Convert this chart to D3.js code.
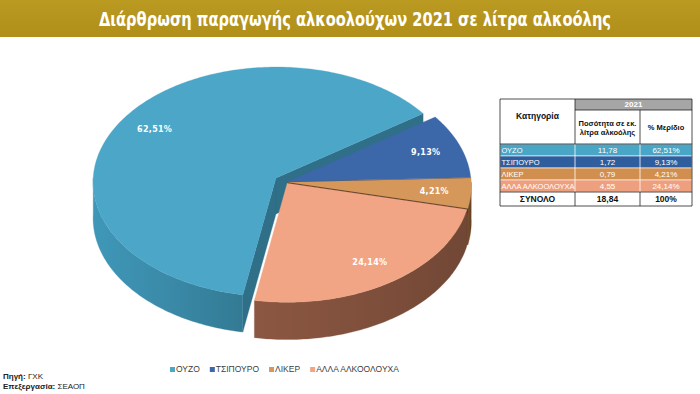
<!DOCTYPE html>
<meta charset="utf-8">
<style>
body { margin: 0; background: #fff; }
svg { display: block; font-family: "Liberation Sans", Arial, sans-serif; }
</style>
<svg width="700" height="394"></svg>
<script src="https://d3js.org/d3.v7.min.js"></script>
<script>

var title = "Διάρθρωση παραγωγής αλκοολούχων 2021 σε λίτρα αλκοόλης";
var categories = ["ΟΥΖΟ", "ΤΣΙΠΟΥΡΟ", "ΛΙΚΕΡ", "ΑΛΛΑ ΑΛΚΟΟΛΟΥΧΑ"];
var volumes = [11.78, 1.72, 0.79, 4.55];   // εκ. λίτρα αλκοόλης
var shares = [62.51, 9.13, 4.21, 24.14];   // %
var totalLabel = "ΣΥΝΟΛΟ", totalVolume = 18.84, totalShare = 100;
var year = "2021";
var tableHeaders = ["Κατηγορία", ["Ποσότητα σε εκ.", "λίτρα αλκοόλης"], "% Μερίδιο"];
var sourceLines = [["Πηγή:", " ΓΧΚ"], ["Επεξεργασία:", " ΣΕΑΟΠ"]];

var topColors  = ["#4ba6c8", "#3c67a8", "#d5985a", "#f2a584"];
var sideColors = ["#3a8aa8", "#2b4f84", "#6e4728", "#80503c"];
var cutColors  = ["#2f7088", "#223f6a", "#4a2e18", "#5e3a2c"];
var rowColors  = ["#4aa6c6", "#2f5e9e", "#d18f4f", "#ee9f7e"];
var explodeBy  = [0.065, 0.012, 0.012, 0.012];

var svg = d3.select("svg");
var defs = svg.append("defs");

var greek = d3.formatLocale({decimal: ",", thousands: ".", grouping: [3], currency: ["", "€"]});
var f2 = greek.format(".2f");

// ---- title bar
var tg = defs.append("linearGradient").attr("id", "bar").attr("x1", 0).attr("x2", 0).attr("y1", 0).attr("y2", 1);
tg.append("stop").attr("offset", 0).attr("stop-color", "#bb9a22");
tg.append("stop").attr("offset", 1).attr("stop-color", "#b08f1a");
svg.append("rect").attr("width", 700).attr("height", 37).attr("fill", "url(#bar)");
svg.append("text")
    .attr("x", 355).attr("y", 26)
    .attr("text-anchor", "middle")
    .attr("fill", "#fff")
    .attr("font-family", "'Liberation Sans Narrow','DejaVu Sans Condensed','Roboto Condensed',sans-serif")
    .attr("font-weight", "bold")
    .attr("font-size", 19)
    .attr("textLength", 512).attr("lengthAdjust", "spacingAndGlyphs")
    .text(title);

// ---- 3D pie
var cx = 286, cy = 182, A = 183, B = 115, persp = 0.034, depth = 36;

function project(X, Z, h) {
  var w = 1 / (1 - persp * Z);
  return [cx + A * X * w, cy + (B * Z + depth * h) * w];
}

var start = 190 * Math.PI / 180;
var pie = d3.pie().sort(null).value(function(d) { return d; })
    .startAngle(start).endAngle(start + 2 * Math.PI);
var arcs = pie(shares);

arcs.forEach(function(d, i) {
  d.mid = (d.startAngle + d.endAngle) / 2;
  d.ex = explodeBy[i] * Math.sin(d.mid);
  d.ez = -explodeBy[i] * Math.cos(d.mid);
  d.i = i;
});

function rim(d, a, h) { return project(d.ex + Math.sin(a), d.ez - Math.cos(a), h); }
function rimZ(d, a) { return d.ez - Math.cos(a); }
function arcPts(d, a0, a1, h) {
  var n = Math.max(2, Math.ceil(Math.abs(a1 - a0) / (Math.PI / 180))), pts = [];
  for (var k = 0; k <= n; k++) pts.push(rim(d, a0 + (a1 - a0) * k / n, h));
  return pts;
}
var line = d3.line().curve(d3.curveLinearClosed);

var faces = [];
arcs.forEach(function(d) {
  // outer wall, only the front half
  [Math.PI / 2, Math.PI / 2 + 2 * Math.PI].forEach(function(f0) {
    var b0 = Math.max(d.startAngle, f0), b1 = Math.min(d.endAngle, f0 + Math.PI);
    if (b1 > b0) {
      var pts = arcPts(d, b0, b1, 0).concat(arcPts(d, b1, b0, 1));
      faces.push({d: d, kind: "wall", pts: pts, z: rimZ(d, (b0 + b1) / 2), x0: rim(d, b0, 0)[0], x1: rim(d, b1, 0)[0]});
    }
  });
  // cut faces
  [[d.startAngle, -1], [d.endAngle, 1]].forEach(function(c) {
    var phi = c[0] + c[1] * Math.PI / 2;
    if (-Math.cos(phi) <= 0) return;
    var v0 = project(d.ex, d.ez, 0), v1 = project(d.ex, d.ez, 1);
    var pts = [v0, rim(d, c[0], 0), rim(d, c[0], 1), v1];
    faces.push({d: d, kind: "cut", pts: pts, z: (d.ez + rimZ(d, c[0])) / 2});
  });
});
faces.sort(function(a, b) { return a.z - b.z; });

faces.forEach(function(f, j) {
  var fill = cutColors[f.d.i];
  if (f.kind === "wall") {
    var id = "wg" + j;
    var g = defs.append("linearGradient").attr("id", id).attr("gradientUnits", "userSpaceOnUse")
        .attr("x1", Math.min(f.x0, f.x1)).attr("x2", Math.max(f.x0, f.x1)).attr("y1", 0).attr("y2", 0);
    var c = d3.color(sideColors[f.d.i]);
    g.append("stop").attr("offset", 0).attr("stop-color", c.brighter(0.25));
    g.append("stop").attr("offset", 0.5).attr("stop-color", c);
    g.append("stop").attr("offset", 1).attr("stop-color", c.darker(0.35));
    fill = "url(#" + id + ")";
  }
  svg.append("path").attr("d", line(f.pts)).attr("fill", fill)
      .attr("stroke", fill).attr("stroke-width", 0.3);
});

svg.append("g").selectAll("path").data(arcs).join("path")
    .attr("d", function(d) { return line([project(d.ex, d.ez, 0)].concat(arcPts(d, d.startAngle, d.endAngle, 0))); })
    .attr("fill", function(d) { return topColors[d.i]; })
    .attr("stroke", function(d) { return topColors[d.i]; })
    .attr("stroke-width", 0.3);

var labelR = 0.8;
svg.append("g").selectAll("text").data(arcs).join("text")
    .attr("transform", function(d) {
      var p = project(d.ex + labelR * Math.sin(d.mid), d.ez - labelR * Math.cos(d.mid), 0);
      return "translate(" + p + ")";
    })
    .attr("text-anchor", "middle").attr("dy", "0.35em")
    .attr("fill", "#fff").attr("font-family", "'DejaVu Sans',Verdana,sans-serif")
    .attr("font-size", 8).attr("font-weight", "bold")
    .attr("letter-spacing", 0.3)
    .text(function(d) { return f2(d.data) + "%"; });

// ---- table
var tx = [500, 575, 640, 692];
var yTop = 99, yYear = 110, yHead = 144, rowH = 12, totalH = 14;
var tbl = svg.append("g").attr("font-size", 7.5);

tbl.append("rect").attr("x", tx[1]).attr("y", yTop).attr("width", tx[3] - tx[1]).attr("height", yYear - yTop).attr("fill", "#a6a6a6");
tbl.append("text").attr("x", (tx[1] + tx[3]) / 2).attr("y", (yTop + yYear) / 2).attr("dy", "0.35em")
    .attr("text-anchor", "middle").attr("fill", "#fff").attr("font-weight", "bold").attr("font-size", 8).text(year);
tbl.append("text").attr("x", (tx[0] + tx[1]) / 2).attr("y", 116).attr("dy", "0.35em")
    .attr("text-anchor", "middle").attr("fill", "#111").attr("font-weight", "bold").attr("font-size", 8.5).text(tableHeaders[0]);
tableHeaders[1].forEach(function(s, k) {
  tbl.append("text").attr("x", (tx[1] + tx[2]) / 2).attr("y", 123 + k * 9.5).attr("dy", "0.35em")
      .attr("text-anchor", "middle").attr("fill", "#111").attr("font-weight", "bold").text(s);
});
tbl.append("text").attr("x", (tx[2] + tx[3]) / 2).attr("y", 127).attr("dy", "0.35em")
    .attr("text-anchor", "middle").attr("fill", "#111").attr("font-weight", "bold").text(tableHeaders[2]);

var rows = tbl.selectAll("g.row").data(categories).join("g").attr("class", "row")
    .attr("transform", function(d, i) { return "translate(0," + (yHead + i * rowH) + ")"; });
rows.append("rect").attr("x", tx[0]).attr("width", tx[3] - tx[0]).attr("height", rowH)
    .attr("fill", function(d, i) { return rowColors[i]; }).attr("stroke", "#fff").attr("stroke-width", 0.6);
rows.append("text").attr("x", tx[0] + 1.5).attr("y", rowH / 2).attr("dy", "0.35em").attr("fill", "#fff").text(function(d) { return d; });
rows.append("text").attr("x", (tx[1] + tx[2]) / 2).attr("y", rowH / 2).attr("dy", "0.35em").attr("text-anchor", "middle")
    .attr("fill", "#fff").attr("font-size", 8).text(function(d, i) { return f2(volumes[i]); });
rows.append("text").attr("x", (tx[2] + tx[3]) / 2).attr("y", rowH / 2).attr("dy", "0.35em").attr("text-anchor", "middle")
    .attr("fill", "#fff").attr("font-size", 8).text(function(d, i) { return f2(shares[i]) + "%"; });
rows.each(function() {
  d3.select(this).selectAll("line").data([tx[1], tx[2]]).join("line")
      .attr("x1", function(d) { return d; }).attr("x2", function(d) { return d; })
      .attr("y1", 0).attr("y2", rowH).attr("stroke", "#fff").attr("stroke-width", 0.8);
});

var yTot = yHead + categories.length * rowH;
var totRow = [totalLabel, f2(totalVolume), totalShare + "%"];
totRow.forEach(function(s, k) {
  tbl.append("text").attr("x", (tx[k] + tx[k + 1]) / 2).attr("y", yTot + totalH / 2).attr("dy", "0.35em")
      .attr("text-anchor", "middle").attr("fill", "#111").attr("font-weight", "bold").attr("font-size", 8.5).text(s);
});

var yEnd = yTot + totalH;
var grid = [
  [tx[0], yTop, tx[3], yTop], [tx[0], yEnd, tx[3], yEnd],
  [tx[0], yTop, tx[0], yEnd], [tx[3], yTop, tx[3], yEnd],
  [tx[1], yTop, tx[1], yHead], [tx[2], yYear, tx[2], yHead],
  [tx[1], yYear, tx[3], yYear], [tx[0], yHead, tx[3], yHead],
  [tx[0], yTot, tx[3], yTot], [tx[1], yTot, tx[1], yEnd], [tx[2], yTot, tx[2], yEnd]
];
tbl.selectAll("line.grid").data(grid).join("line").attr("class", "grid")
    .attr("x1", function(d) { return d[0]; }).attr("y1", function(d) { return d[1]; })
    .attr("x2", function(d) { return d[2]; }).attr("y2", function(d) { return d[3]; })
    .attr("stroke", "#222").attr("stroke-width", 0.8);

// ---- legend
var legend = svg.append("g").attr("font-size", 8.5).attr("fill", "#404040");
var lx = 170;
categories.forEach(function(c, i) {
  var g = legend.append("g").attr("transform", "translate(" + lx + ",369.5)");
  g.append("rect").attr("x", 0).attr("y", -2.5).attr("width", 5).attr("height", 5).attr("fill", topColors[i]);
  var t = g.append("text").attr("x", 6).attr("dy", "0.35em").text(c);
  lx += 6 + t.node().getComputedTextLength() + 10;
});

// ---- source
var src = svg.append("g").attr("font-size", 8).attr("fill", "#222");
sourceLines.forEach(function(s, k) {
  var t = src.append("text").attr("x", 3).attr("y", 376 + k * 10).attr("dy", "0.35em");
  t.append("tspan").attr("font-weight", "bold").text(s[0]);
  t.append("tspan").text(s[1]);
});

</script>
